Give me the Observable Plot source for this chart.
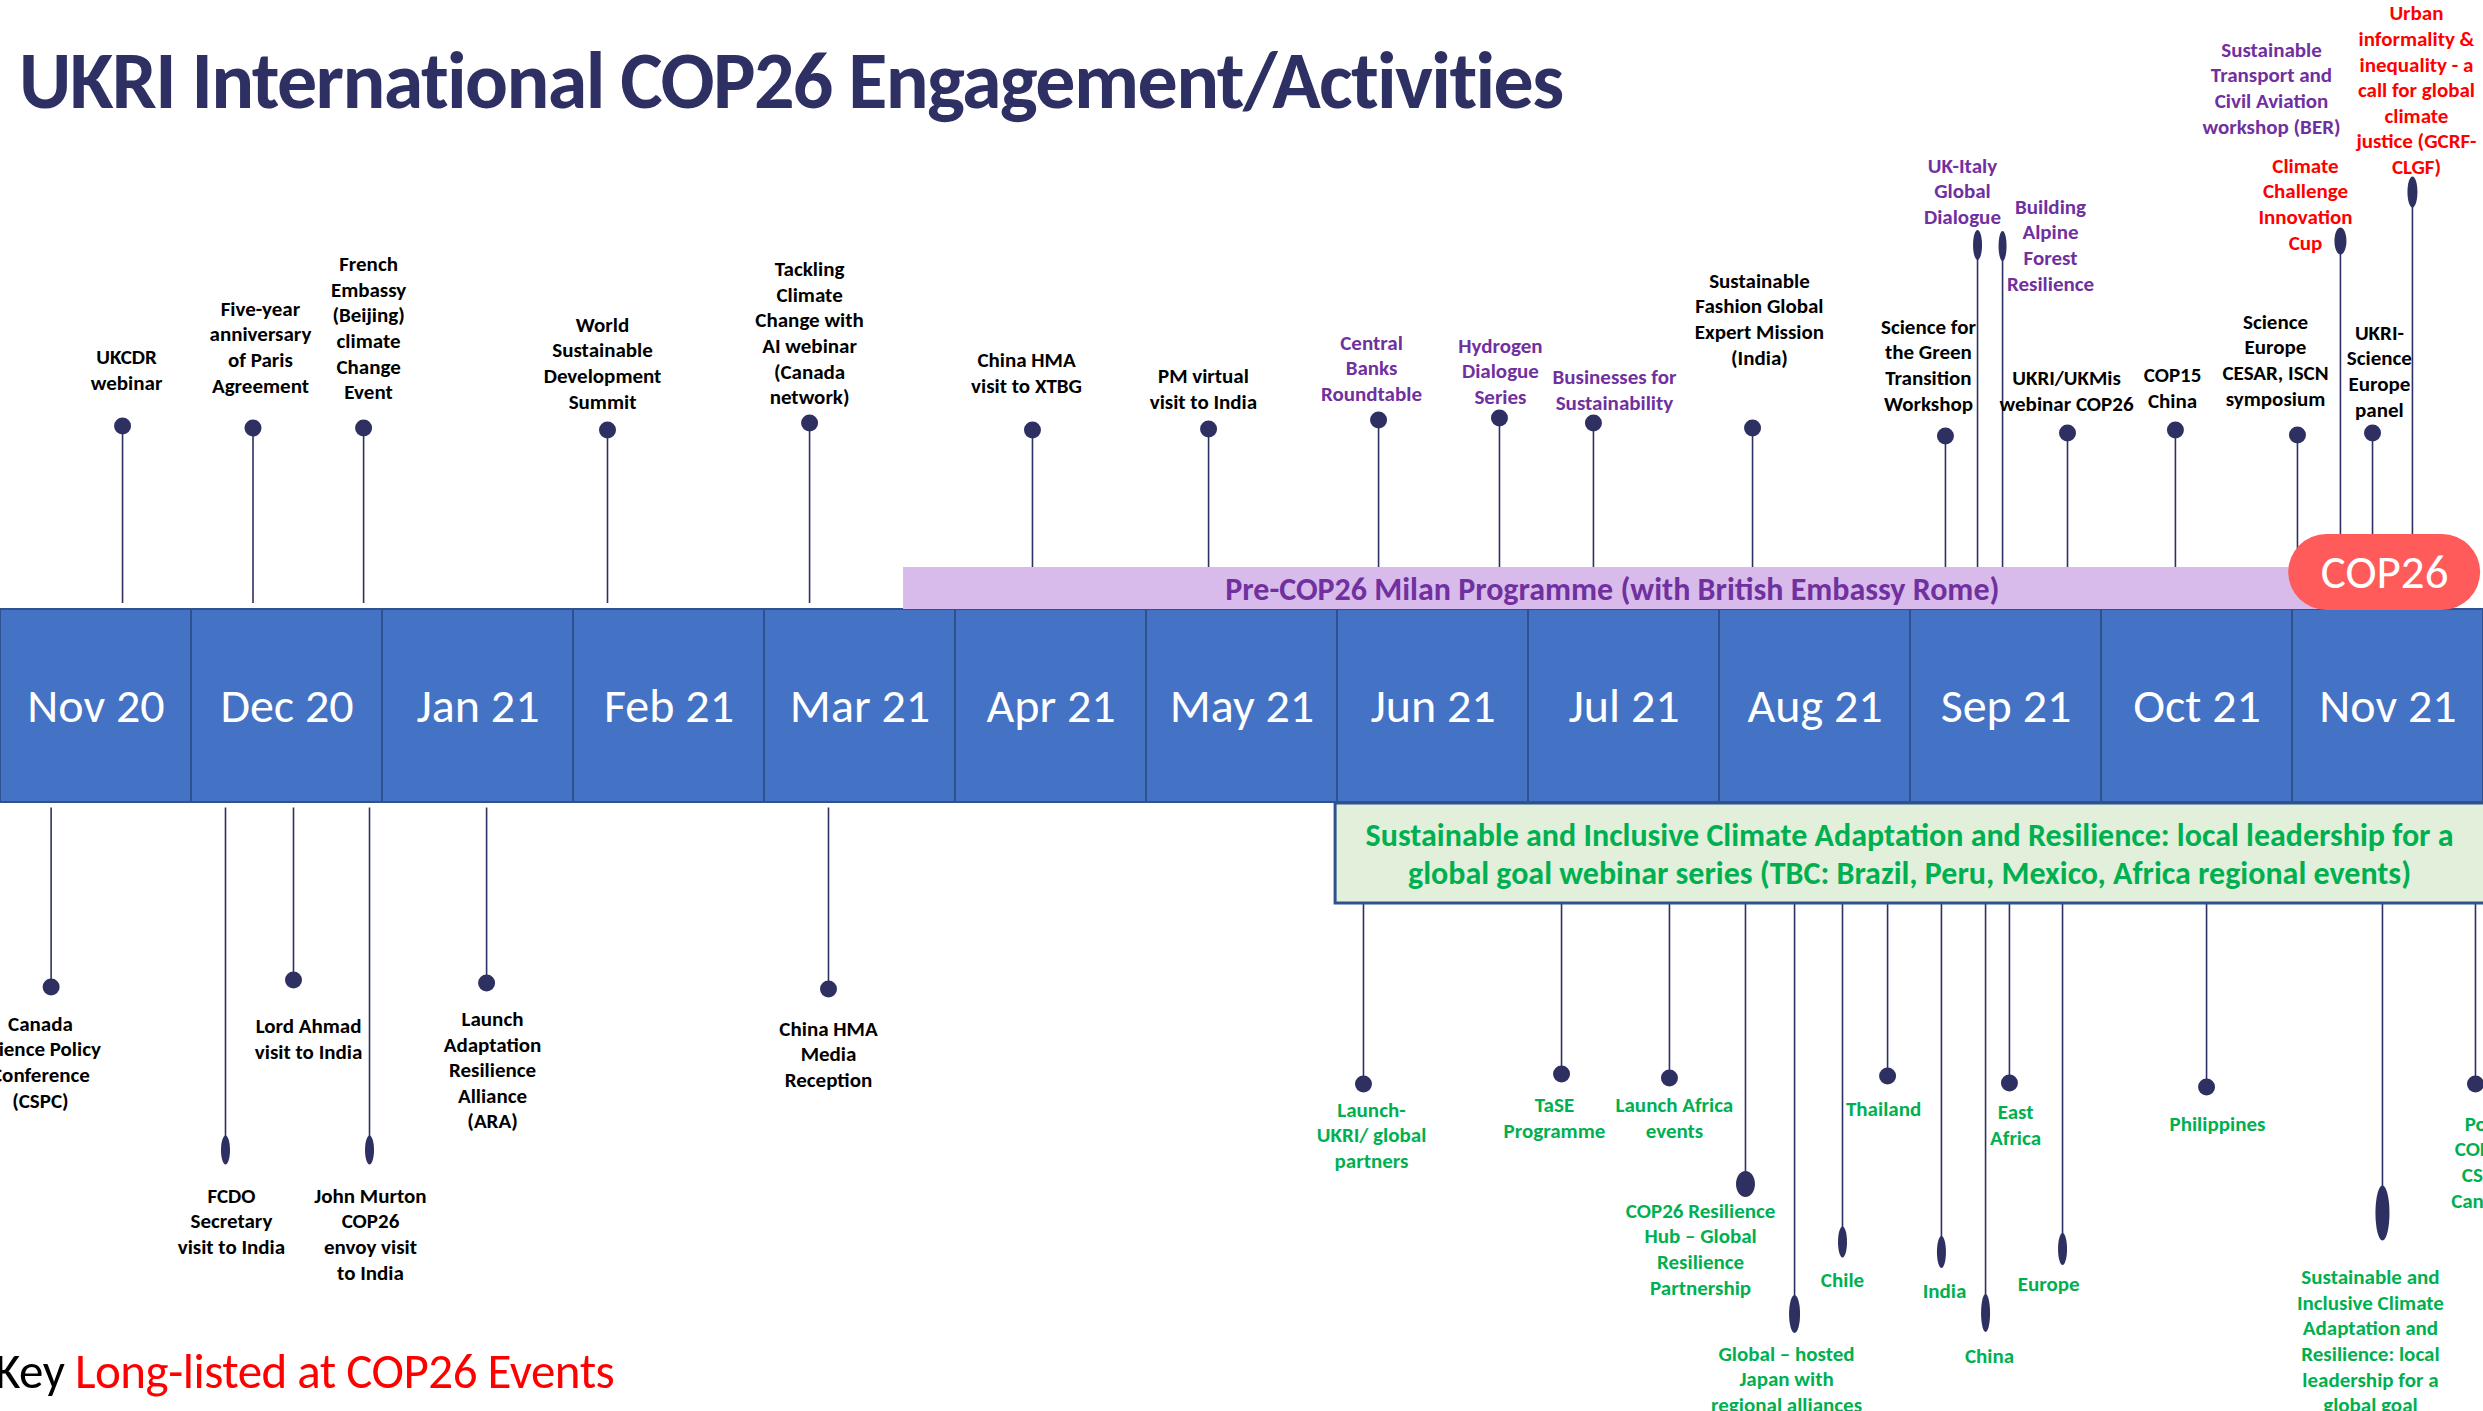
<!DOCTYPE html>
<html>
<head>
<meta charset="utf-8">
<script src="https://cdn.jsdelivr.net/npm/d3@7"></script>
<script src="https://cdn.jsdelivr.net/npm/@observablehq/plot@0.6"></script>
<style>
html,body{margin:0;padding:0;background:#fff;overflow:hidden;}
#wrap{position:relative;width:2483px;height:1411px;overflow:hidden;}
#chart{position:absolute;left:0;top:0;}
#title{position:absolute;left:19px;top:41px;font-family:Carlito,Lato,sans-serif;font-weight:bold;font-size:80px;color:#2E2F63;line-height:1;white-space:nowrap;letter-spacing:-1.6px;}
#key{position:absolute;left:-5px;top:1347px;font-family:Carlito,Lato,sans-serif;font-size:49px;line-height:1;white-space:nowrap;color:#000;letter-spacing:-0.5px;}
#key span{color:#FF0000;}
</style>
</head>
<body>
<div id="wrap">
  <div id="chart"></div>
  <div id="title">UKRI International COP26 Engagement/Activities</div>
  <div id="key">Key <span>Long-listed at COP26 Events</span></div>
</div>
<script>
// ---------- DATA ----------
// Month cells of the timeline (index 0 = Nov 2020)
const months = ["Nov 20","Dec 20","Jan 21","Feb 21","Mar 21","Apr 21","May 21","Jun 21","Jul 21","Aug 21","Sep 21","Oct 21","Nov 21"];

// Events above the timeline: [label, date (months since 1 Nov 2020), stem level, label date, label level, group]
const topEvents = [
  ["UKCDR\nwebinar", 0.639, 280, 0.66, 337, "black"],
  ["Five-year\nanniversary\nof Paris\nAgreement", 1.322, 278, 1.361, 360, "black"],
  ["French\nEmbassy\n(Beijing)\nclimate\nChange\nEvent", 1.901, 278, 1.927, 379, "black"],
  ["World\nSustainable\nDevelopment\nSummit", 3.178, 276, 3.152, 344, "black"],
  ["Tackling\nClimate\nChange with\nAI webinar\n(Canada\nnetwork)", 4.236, 283, 4.236, 374, "black"],
  ["China HMA\nvisit to XTBG", 5.403, 276, 5.372, 334, "black"],
  ["PM virtual\nvisit to India", 6.325, 277, 6.298, 318, "black"],
  ["Central\nBanks\nRoundtable", 7.215, 286, 7.178, 339, "purple"],
  ["Hydrogen\nDialogue\nSeries", 7.848, 288, 7.853, 336, "purple"],
  ["Businesses for\nSustainability", 8.340, 283, 8.450, 317, "purple"],
  ["Sustainable\nFashion Global\nExpert Mission\n(India)", 9.173, 278, 9.209, 388, "black"],
  ["Science for\nthe Green\nTransition\nWorkshop", 10.183, 270, 10.094, 342, "black"],
  ["UK-Italy\nGlobal\nDialogue", 10.351, 461, 10.272, 516, "purple"],
  ["Building\nAlpine\nForest\nResilience", 10.482, 460, 10.733, 462, "purple"],
  ["UKRI/UKMis\nwebinar COP26", 10.822, 273, 10.817, 316, "black"],
  ["COP15\nChina", 11.387, 276, 11.372, 319, "black"],
  ["Science\nEurope\nCESAR, ISCN\nsymposium", 12.026, 271, 11.911, 347, "black"],
  ["Climate\nChallenge\nInnovation\nCup", 12.251, 465, 12.068, 503, "red"],
  ["UKRI-\nScience\nEurope\npanel", 12.419, 273, 12.455, 336, "black"],
  ["Urban\ninformality &\ninequality - a\ncall for global\nclimate\njustice (GCRF-\nCLGF)", 12.628, 514, 12.649, 617, "red"],
  ["Sustainable\nTransport and\nCivil Aviation\nworkshop (BER)", null, null, 11.890, 619, "purple"]
];

// Events below the timeline
const bottomEvents = [
  ["Canada\nScience Policy\nConference\n(CSPC)", 0.265, -281, 0.209, -355, "black"],
  ["FCDO\nSecretary\nvisit to India", 1.178, -444, 1.209, -514, "black"],
  ["Lord Ahmad\nvisit to India", 1.534, -274, 1.613, -332, "black"],
  ["John Murton\nCOP26\nenvoy visit\nto India", 1.932, -444, 1.937, -527, "black"],
  ["Launch\nAdaptation\nResilience\nAlliance\n(ARA)", 2.545, -277, 2.576, -363, "black"],
  ["China HMA\nMedia\nReception", 4.335, -283, 4.335, -347, "black"]
];

// Webinar-series events (green)
const seriesEvents = [
  ["Launch-\nUKRI/ global\npartners", 7.136, -378, 7.178, -428, "green"],
  ["TaSE\nProgramme", 8.173, -368, 8.136, -411, "green"],
  ["Launch Africa\nevents", 8.738, -372, 8.764, -411, "green"],
  ["COP26 Resilience\nHub – Global\nResilience\nPartnership", 9.136, -478, 8.901, -542, "green"],
  ["Global – hosted\nJapan with\nregional alliances", 9.393, -608, 9.351, -672, "green"],
  ["Chile", 9.644, -536, 9.644, -573, "green"],
  ["Thailand", 9.880, -370, 9.859, -402, "green"],
  ["India", 10.162, -546, 10.178, -584, "green"],
  ["China", 10.393, -607, 10.414, -649, "green"],
  ["East\nAfrica", 10.518, -377, 10.55, -418, "green"],
  ["Europe", 10.796, -543, 10.723, -577, "green"],
  ["Philippines", 11.550, -381, 11.607, -417, "green"],
  ["Sustainable and\nInclusive Climate\nAdaptation and\nResilience: local\nleadership for a\nglobal goal", 12.471, -507, 12.408, -634, "green"],
  ["Post\nCOP26\nCSPC\nCanada", 12.958, -378, 13.0, -455, "green"]
];

// Programme spans: [label, start, end]
const milanProgramme = ["Pre-COP26 Milan Programme (with British Embassy Rome)", 4.728, 12.15];
const cop26 = ["COP26", 11.98, 12.985];
const webinarSeries = ["Sustainable and Inclusive Climate Adaptation and Resilience: local leadership for a\nglobal goal webinar series (TBC: Brazil, Peru, Mexico, Africa regional events)", 6.99, 13.05];

// ---------- STYLE ----------
const COLORS = {black: "#000000", purple: "#7030A0", red: "#FF0000", green: "#00B050"};
const NAVY = "#2E3062";
const BLUE = "#4472C4";
const DIVIDER = "#2F528F";
const FONT = "Carlito, Lato, sans-serif";
// elongated dot shapes (width, height in px), keyed by first label line
const dotShapes = {
  "UK-Italy": [9, 30], "Building": [8, 30], "Climate": [12, 27], "Urban": [10, 31],
  "FCDO": [9, 29], "John Murton": [9, 29], "COP26 Resilience": [19, 26],
  "Global – hosted": [11, 38], "Chile": [9, 31], "India": [9, 32], "China": [9, 38],
  "Europe": [9, 32], "Sustainable and": [14, 55]
};

// ---------- BUILD ----------
const toObj = r => ({label: r[0], date: r[1], level: r[2], labelDate: r[3], labelLevel: r[4], group: r[5], key: r[0].split("\n")[0]});
const tops = topEvents.map(toObj);
const bottoms = bottomEvents.map(toObj).concat(seriesEvents.map(toObj));
const all = tops.concat(bottoms);
const withDot = all.filter(d => d.date != null);
const roundDots = withDot.filter(d => !dotShapes[d.key]);
const tallDots = withDot.filter(d => dotShapes[d.key]);

const monthRows = months.map((m, i) => ({m, i}));
const BAND = 96.5;        // half height of month band
const STEM_TOP = 102.5;   // top stems stop just above band
const STEM_BOTTOM = -102; // bottom stems start just below band

function ellipse(w, h) {
  const a = w / 2, b = h / 2, k = 0.5523;
  return {
    draw(ctx) {
      ctx.moveTo(a, 0);
      ctx.bezierCurveTo(a, k * b, k * a, b, 0, b);
      ctx.bezierCurveTo(-k * a, b, -a, k * b, -a, 0);
      ctx.bezierCurveTo(-a, -k * b, -k * a, -b, 0, -b);
      ctx.bezierCurveTo(k * a, -b, a, -k * b, a, 0);
      ctx.closePath();
    }
  };
}

const milan = {label: milanProgramme[0], start: milanProgramme[1], end: milanProgramme[2]};
const cop = {label: cop26[0], start: cop26[1], end: cop26[2]};
const series = {label: webinarSeries[0], start: webinarSeries[1], end: webinarSeries[2]};

const marks = [
  // stems
  Plot.ruleX(tops.filter(d => d.date != null), {x: "date", y1: STEM_TOP, y2: "level", stroke: NAVY, strokeWidth: 1.6}),
  Plot.ruleX(bottoms, {x: "date", y1: STEM_BOTTOM, y2: "level", stroke: NAVY, strokeWidth: 1.6}),
  // month band
  Plot.rect(monthRows, {x1: "i", x2: d => d.i + 1, y1: -BAND, y2: BAND, fill: BLUE, stroke: DIVIDER, strokeWidth: 2}),
  Plot.text(monthRows, {x: d => d.i + 0.5, y: -1, text: "m", fill: "#ffffff", fontSize: 48, fontFamily: FONT}),
  // Milan programme band
  Plot.rect([milan], {x1: "start", x2: "end", y1: BAND, y2: 138.5, fill: "#D8BBEA"}),
  Plot.text([milan], {x: d => (d.start + d.end) / 2, y: 116, text: "label", fill: COLORS.purple, fontSize: 32, fontWeight: "bold", fontFamily: FONT}),
  // COP26 pill
  Plot.rect([cop], {x1: "start", x2: "end", y1: 95.5, y2: 171.5, fill: "#FF5B5B", rx: 38, ry: 38}),
  Plot.text([cop], {x: d => (d.start + d.end) / 2, y: 133, text: "label", fill: "#ffffff", fontSize: 47, fontFamily: FONT}),
  // webinar series box
  Plot.rect([series], {x1: "start", x2: "end", y1: -97.5, y2: -197.5, fill: "#E2EFDA", stroke: DIVIDER, strokeWidth: 3}),
  Plot.text([series], {x: 9.995, y: -146.5, text: "label", fill: COLORS.green, fontSize: 32, fontWeight: "bold", lineHeight: 1.19, fontFamily: FONT}),
  // dots
  Plot.dot(roundDots, {x: "date", y: "level", r: 8.5, fill: NAVY}),
  ...tallDots.map(d => Plot.dot([d], {x: "date", y: "level", symbol: ellipse(...dotShapes[d.key]), r: 10, fill: NAVY})),
  // labels
  Plot.text(all, {x: "labelDate", y: "labelLevel", text: "label", fill: d => COLORS[d.group], fontSize: 21, fontWeight: "bold", lineHeight: 1.22, fontFamily: FONT})
];

const chart = Plot.plot({
  width: 2483,
  height: 1411,
  margin: 0,
  x: {domain: [0, 13], axis: null},
  y: {domain: [-705.5, 705.5], axis: null},
  color: {type: "identity"},
  style: {fontFamily: FONT, background: "transparent", overflow: "visible"},
  marks
});
document.getElementById("chart").appendChild(chart);
</script>
</body>
</html>
